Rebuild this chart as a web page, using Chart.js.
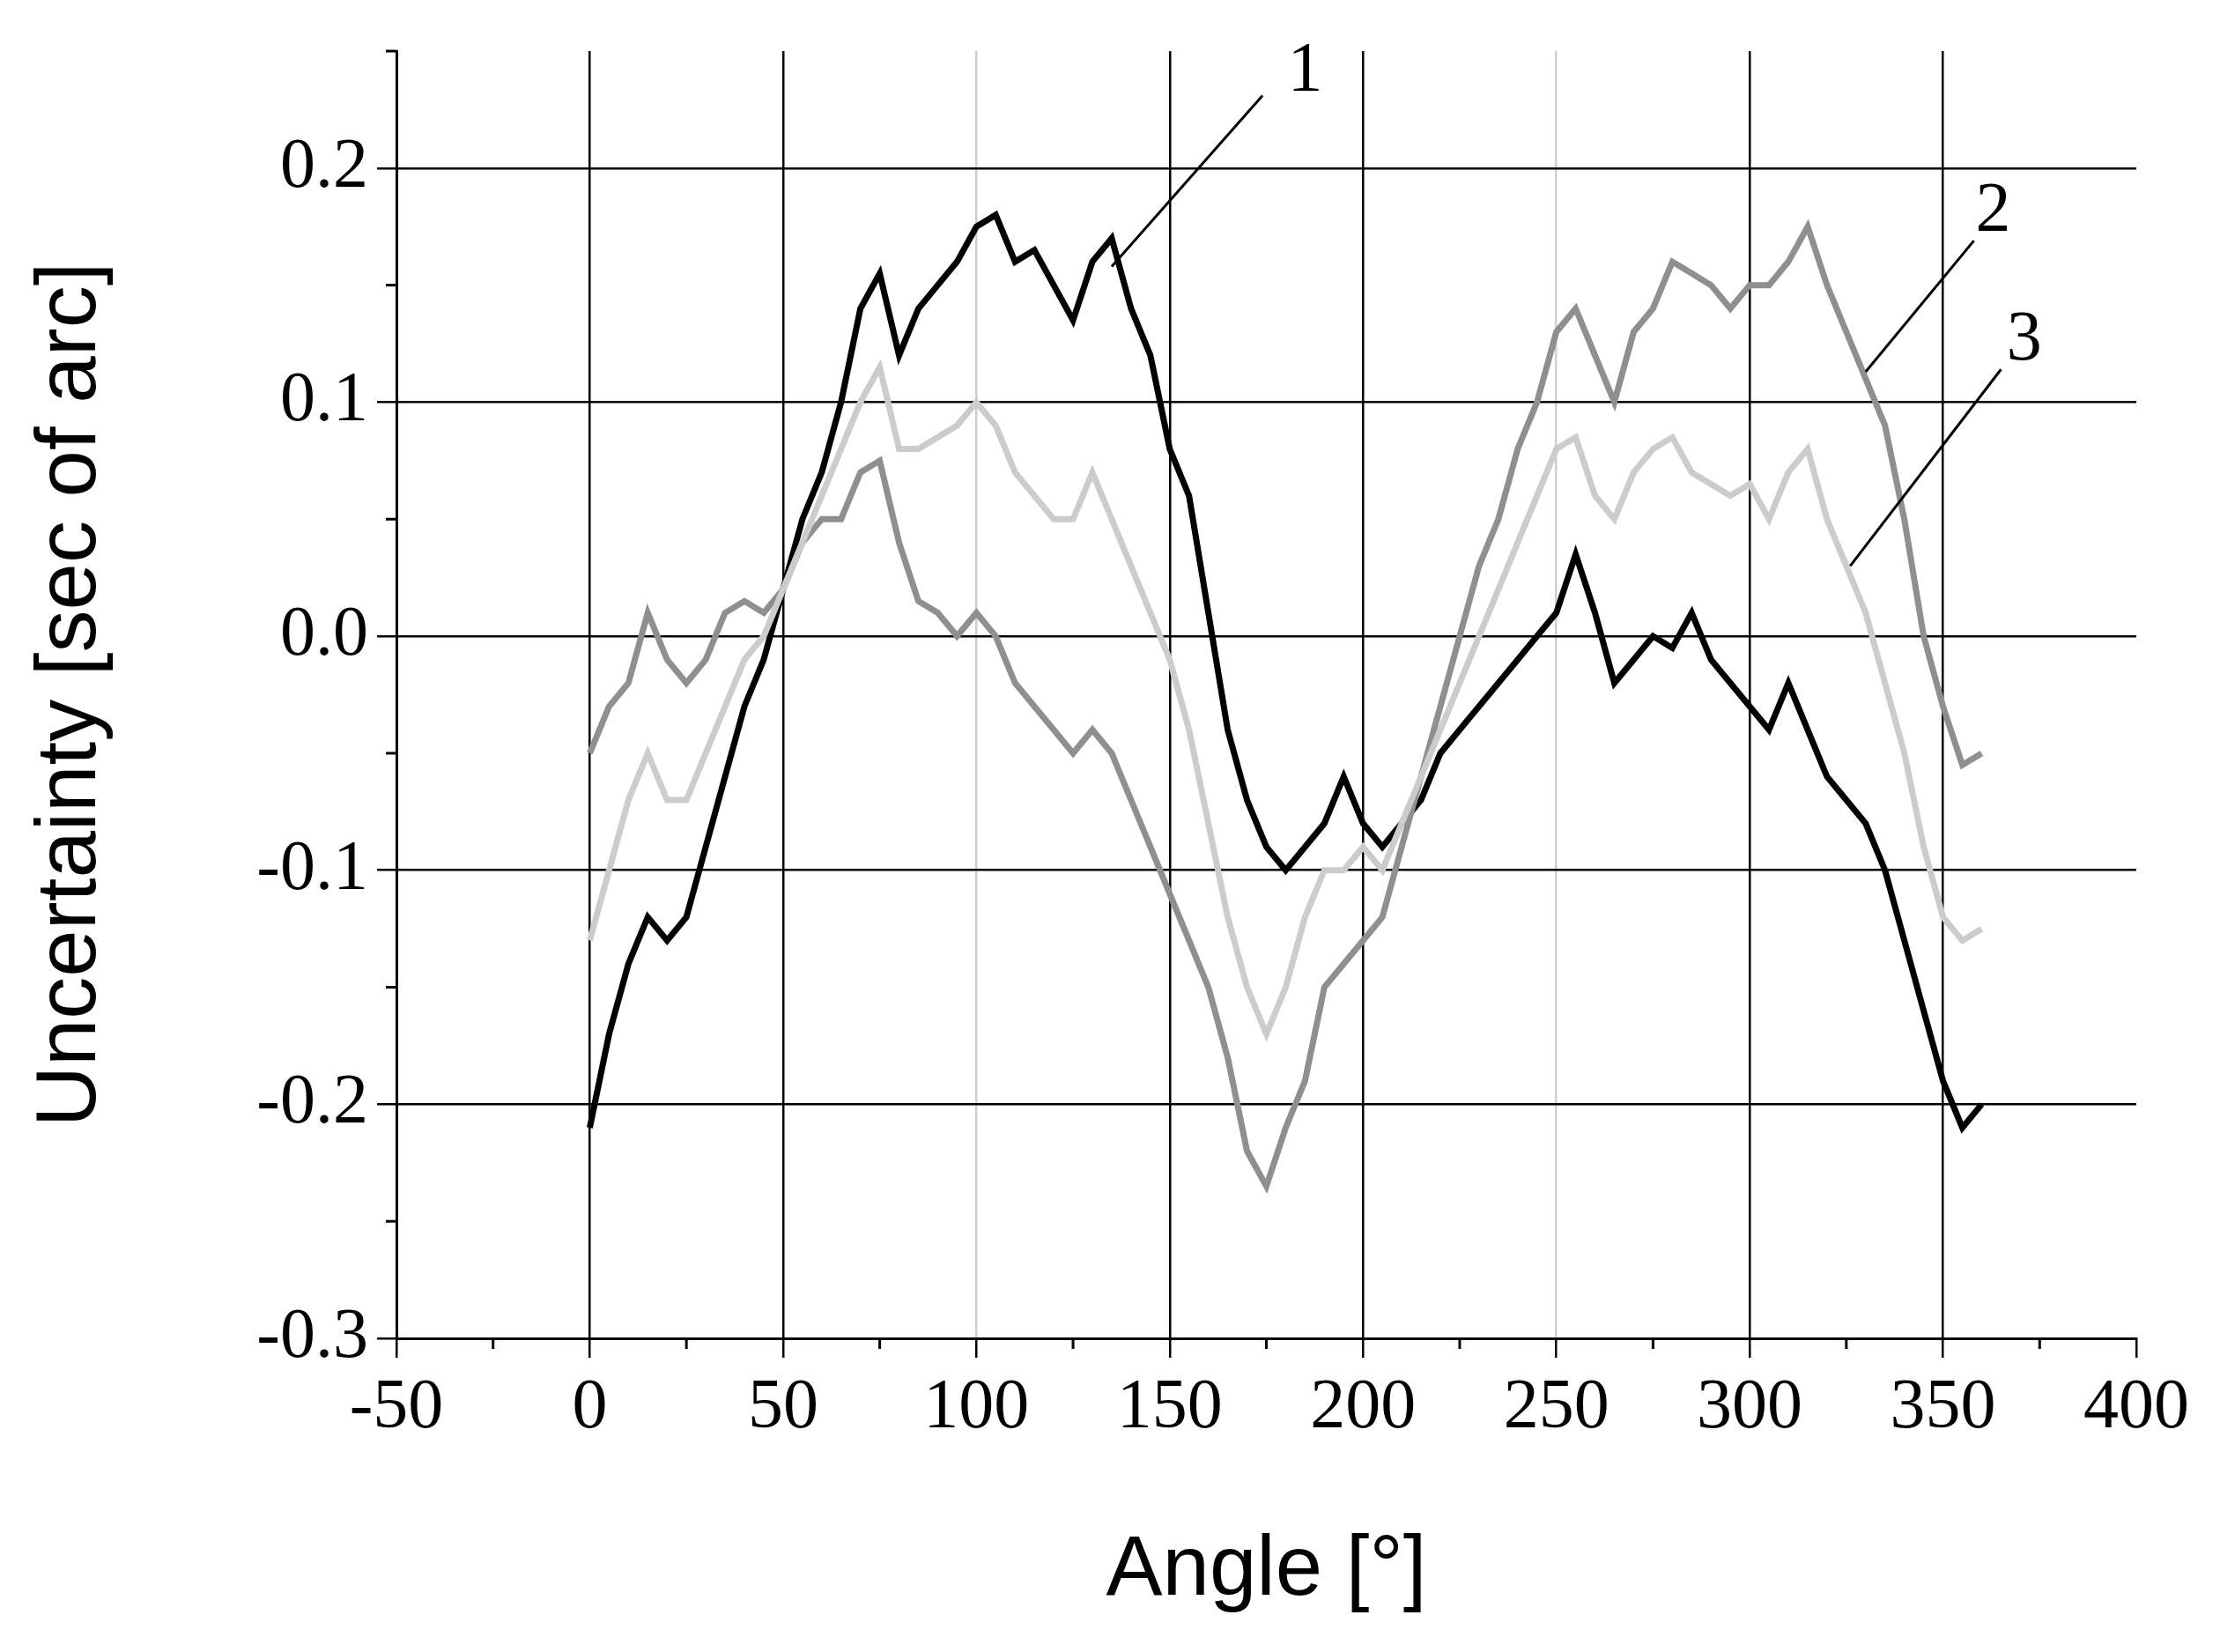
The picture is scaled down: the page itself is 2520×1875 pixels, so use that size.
<!DOCTYPE html>
<html><head><meta charset="utf-8">
<script src="https://cdn.jsdelivr.net/npm/chart.js@4"></script>
<style>html,body{margin:0;background:#fff}</style></head>
<body><canvas id="c" width="2520" height="1875"></canvas>
<script>
const angles=[0,5,10,15,20,25,30,35,40,45,50,55,60,65,70,75,80,85,90,95,100,105,110,115,120,125,130,135,140,145,150,155,160,165,170,175,180,185,190,195,200,205,210,215,220,225,230,235,240,245,250,255,260,265,270,275,280,285,290,295,300,305,310,315,320,325,330,335,340,345,350,355,360];
const curve1=[-0.21,-0.17,-0.14,-0.12,-0.13,-0.12,-0.09,-0.06,-0.03,-0.01,0.02,0.05,0.07,0.10,0.14,0.155,0.12,0.14,0.15,0.16,0.175,0.18,0.16,0.165,0.15,0.135,0.16,0.17,0.14,0.12,0.08,0.06,0.01,-0.04,-0.07,-0.09,-0.10,-0.09,-0.08,-0.06,-0.08,-0.09,-0.08,-0.07,-0.05,-0.04,-0.03,-0.02,-0.01,0.0,0.01,0.035,0.01,-0.02,-0.01,0.0,-0.005,0.01,-0.01,-0.02,-0.03,-0.04,-0.02,-0.04,-0.06,-0.07,-0.08,-0.10,-0.13,-0.16,-0.19,-0.21,-0.20];
const curve2=[-0.05,-0.03,-0.02,0.01,-0.01,-0.02,-0.01,0.01,0.015,0.01,0.02,0.04,0.05,0.05,0.07,0.075,0.04,0.015,0.01,0.0,0.01,0.0,-0.02,-0.03,-0.04,-0.05,-0.04,-0.05,-0.07,-0.09,-0.11,-0.13,-0.15,-0.18,-0.22,-0.235,-0.21,-0.19,-0.15,-0.14,-0.13,-0.12,-0.09,-0.06,-0.03,0.0,0.03,0.05,0.08,0.10,0.13,0.14,0.12,0.10,0.13,0.14,0.16,0.155,0.15,0.14,0.15,0.15,0.16,0.175,0.15,0.13,0.11,0.09,0.05,0.0,-0.03,-0.055,-0.05];
const curve3=[-0.13,-0.10,-0.07,-0.05,-0.07,-0.07,-0.05,-0.03,-0.01,0.0,0.02,0.04,0.06,0.08,0.10,0.115,0.08,0.08,0.085,0.09,0.10,0.09,0.07,0.06,0.05,0.05,0.07,0.05,0.03,0.01,-0.01,-0.04,-0.08,-0.12,-0.15,-0.17,-0.15,-0.12,-0.10,-0.10,-0.09,-0.10,-0.08,-0.06,-0.04,-0.02,0.0,0.02,0.04,0.06,0.08,0.085,0.06,0.05,0.07,0.08,0.085,0.07,0.065,0.06,0.065,0.05,0.07,0.08,0.05,0.03,0.01,-0.02,-0.05,-0.09,-0.12,-0.13,-0.125];
const xTicks=[-50,0,50,100,150,200,250,300,350,400];
const yTicks=[-0.3,-0.2,-0.1,0.0,0.1,0.2];
const labels=["1","2","3"];
const labelPos=[[185,0.241],[363,0.181],[371,0.126]];
const arrows=[[[174,0.231],[135,0.158]],[[358,0.169],[330,0.113]],[[365,0.114],[326,0.03]]];

const pts=v=>angles.map((a,i)=>({x:a,y:v[i]}));
const serif="'Liberation Serif', serif";
const annot={id:'annot',afterDraw(ch){
  const c=ch.ctx,xs=ch.scales.x,ys=ch.scales.y,a=ch.chartArea;
  c.save();c.strokeStyle='#000';c.lineWidth=3;
  for(let v=-25;v<=375;v+=50){const px=xs.getPixelForValue(v);c.beginPath();c.moveTo(px,a.bottom);c.lineTo(px,a.bottom+12);c.stroke();}
  for(let v=-0.25;v<=0.26;v+=0.1){const py=ys.getPixelForValue(v);c.beginPath();c.moveTo(a.left,py);c.lineTo(a.left-12,py);c.stroke();}
  c.lineWidth=3;
  arrows.forEach(([p,q])=>{c.beginPath();c.moveTo(xs.getPixelForValue(p[0]),ys.getPixelForValue(p[1]));c.lineTo(xs.getPixelForValue(q[0]),ys.getPixelForValue(q[1]));c.stroke();});
  c.fillStyle='#000';c.font="80px "+serif;c.textAlign='center';c.textBaseline='middle';
  labels.forEach((t,i)=>c.fillText(t,xs.getPixelForValue(labelPos[i][0]),ys.getPixelForValue(labelPos[i][1])));
  c.restore();}};
const ds=(d,col)=>({data:pts(d),borderColor:col,borderWidth:7,pointRadius:0,tension:0,fill:false});
new Chart(document.getElementById('c'),{type:'line',
 data:{datasets:[ds(curve3,'#cccccc'),ds(curve2,'#8f8f8f'),ds(curve1,'#000000')]},
 options:{responsive:false,devicePixelRatio:1,animation:false,
  layout:{padding:{left:20,right:95,top:56,bottom:30}},
  plugins:{legend:{display:false},tooltip:{enabled:false}},
  scales:{
   x:{type:'linear',min:-50,max:400,
    afterBuildTicks:s=>{s.ticks=xTicks.map(v=>({value:v}));},
    afterFit:s=>{s.height=326;},
    ticks:{font:{family:serif,size:80},color:'#000',padding:10,maxRotation:0},
    grid:{color:ctx=>{const v=ctx.tick&&ctx.tick.value;return (v===100||v===250)?'#cfcfcf':(v===-50||v===400?'rgba(0,0,0,0)':'#000');},lineWidth:2.5,tickLength:22,drawTicks:true,tickColor:'#000'},
    border:{color:'#000',width:3},
    title:{display:true,text:'Angle [°]',font:{family:"'Liberation Sans', Arial",size:96},color:'#000',padding:{top:20}}},
   y:{type:'linear',min:-0.3,max:0.25,
    afterBuildTicks:s=>{s.ticks=yTicks.map(v=>({value:v}));},
    afterFit:s=>{s.width=430;},
    ticks:{font:{family:serif,size:80},color:'#000',padding:10,callback:v=>v.toFixed(1)},
    grid:{color:ctx=>{const v=ctx.tick&&ctx.tick.value;return (v!==undefined&&v<-0.25)?'rgba(0,0,0,0)':'#000';},lineWidth:2.5,tickLength:22,tickColor:'#000'},
    border:{color:'#000',width:3},
    title:{display:true,text:'Uncertainty [sec of arc]',font:{family:"'Liberation Sans', Arial",size:96},color:'#000',padding:{bottom:20}}}
  }},plugins:[annot]});
</script></body></html>
